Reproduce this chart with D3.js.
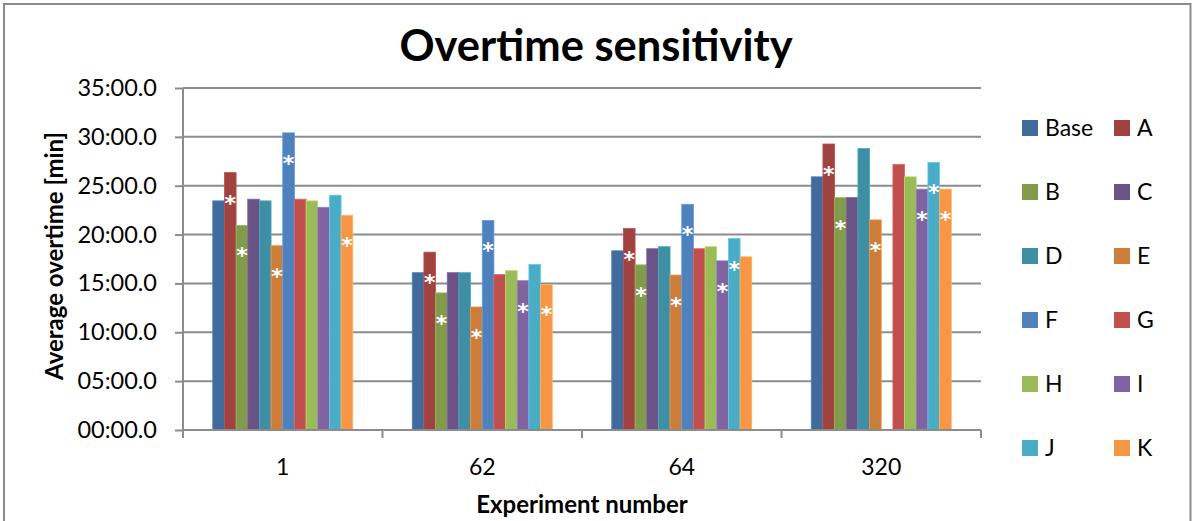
<!DOCTYPE html>
<html>
<head>
<meta charset="utf-8">
<script src="https://cdn.jsdelivr.net/npm/d3@7/dist/d3.min.js"></script>
<style>
  html, body { margin: 0; padding: 0; background: #fff; }
  svg { display: block; font-family: Lato, "Open Sans", sans-serif; }
</style>
</head>
<body>
<svg id="chart" width="1192" height="521"></svg>
<script>
// Experiment numbers along the x axis
const categories = ["1", "62", "64", "320"];

// Scenario names, in legend / bar order
const seriesNames = ["Base", "A", "B", "C", "D", "E", "F", "G", "H", "I", "J", "K"];

// Average overtime per scenario, in minutes, one value per experiment
const baseValues = [23.45, 16.10, 18.34, 25.91];
const aValues    = [26.34, 18.20, 20.62, 29.27];
const bValues    = [20.93, 14.03, 16.90, 23.78];
const cValues    = [23.62, 16.10, 18.55, 23.78];
const dValues    = [23.45, 16.10, 18.76, 28.81];
const eValues    = [18.86, 12.59, 15.86, 21.50];
const fValues    = [30.41, 21.45, 23.10, null];
const gValues    = [23.62, 15.90, 18.55, 27.17];
const hValues    = [23.45, 16.31, 18.76, 25.91];
const iValues    = [22.79, 15.28, 17.31, 24.65];
const jValues    = [24.03, 16.93, 19.59, 27.38];
const kValues    = [21.97, 14.90, 17.72, 24.65];

// Scenarios marked with an asterisk (significant difference) per experiment
const marked1   = ["A", "B", "E", "F", "K"];
const marked62  = ["A", "B", "E", "F", "I", "K"];
const marked64  = ["A", "B", "E", "F", "I", "J"];
const marked320 = ["A", "B", "E", "I", "J", "K"];

// Y axis ticks (minutes) and their mm:ss.t labels
const yTickValues = [0, 5, 10, 15, 20, 25, 30, 35];
const yTickLabels = ["00:00.0", "05:00.0", "10:00.0", "15:00.0", "20:00.0", "25:00.0", "30:00.0", "35:00.0"];

const seriesColors = ["#426b9d", "#9f4240", "#819b4a", "#6a5387", "#3e8fa4", "#cd7d3a",
                      "#4f81bd", "#c0504d", "#9bbb59", "#8064a2", "#4bacc6", "#f79646"];

const valuesBySeries = [baseValues, aValues, bValues, cValues, dValues, eValues,
                        fValues, gValues, hValues, iValues, jValues, kValues];
const markedByCategory = [marked1, marked62, marked64, marked320];

const svg = d3.select("#chart");

// outer chart frame
svg.append("rect")
  .attr("x", 4).attr("y", 4).attr("width", 1186.5).attr("height", 540)
  .attr("fill", "#fff").attr("stroke", "#8c8c8c").attr("stroke-width", 2);

const plot = { left: 183, right: 981, top: 88, bottom: 430 };

const x0 = d3.scaleBand().domain(categories).range([plot.left, plot.right]).padding(0);
const x1 = d3.scaleBand().domain(seriesNames).range([0, x0.bandwidth()])
  .paddingInner(0).paddingOuter(2.55);
const y = d3.scaleLinear().domain([0, 35]).range([plot.bottom, plot.top]);
const color = d3.scaleOrdinal().domain(seriesNames).range(seriesColors);

// horizontal gridlines
svg.append("g")
  .selectAll("line")
  .data(yTickValues.filter(v => v > 0))
  .join("line")
  .attr("x1", plot.left).attr("x2", plot.right)
  .attr("y1", d => y(d)).attr("y2", d => y(d))
  .attr("stroke", "#8c8c8c").attr("stroke-width", 2);

// bars
const rows = [];
categories.forEach((c, ci) => {
  seriesNames.forEach((s, si) => {
    const v = valuesBySeries[si][ci];
    if (v != null) rows.push({ cat: c, series: s, value: v, marked: markedByCategory[ci].includes(s) });
  });
});

const bars = svg.append("g");
bars.selectAll("rect")
  .data(rows)
  .join("rect")
  .attr("x", d => x0(d.cat) + x1(d.series))
  .attr("y", d => y(d.value))
  .attr("width", x1.bandwidth())
  .attr("height", d => y(0) - y(d.value))
  .attr("fill", d => color(d.series))
  .attr("stroke", d => d3.color(color(d.series)).brighter(0.5))
  .attr("stroke-width", 0.8);

// significance asterisks
bars.selectAll("text")
  .data(rows.filter(d => d.marked))
  .join("text")
  .attr("x", d => x0(d.cat) + x1(d.series) + x1.bandwidth() / 2)
  .attr("y", d => y(d.value) + 38)
  .attr("text-anchor", "middle")
  .attr("fill", "#fff")
  .attr("font-family", "'DejaVu Sans', sans-serif")
  .attr("font-size", 22)
  .attr("font-weight", "bold")
  .text("*");

// y axis
const yAxis = d3.axisLeft(y)
  .tickValues(yTickValues)
  .tickFormat((d, i) => yTickLabels[i])
  .tickSize(8)
  .tickPadding(18);
const gy = svg.append("g").attr("transform", `translate(${plot.left},0)`).call(yAxis);
gy.select(".domain").attr("stroke", "#8c8c8c").attr("stroke-width", 2).attr("d", `M0,${plot.top}V${plot.bottom}`);
gy.selectAll(".tick line").attr("stroke", "#8c8c8c").attr("stroke-width", 2);
gy.selectAll(".tick text").attr("font-size", 23.5).attr("fill", "#000")
  .attr("font-family", "Lato, sans-serif");

// x axis: category labels centred, tick marks on category boundaries
const xAxisG = svg.append("g").attr("transform", `translate(0,${plot.bottom})`);
xAxisG.append("line")
  .attr("x1", plot.left).attr("x2", plot.right)
  .attr("stroke", "#8c8c8c").attr("stroke-width", 2);
const boundaries = categories.map(c => x0(c)).concat([x0(categories[categories.length - 1]) + x0.bandwidth()]);
xAxisG.selectAll("line.b")
  .data(boundaries)
  .join("line")
  .attr("class", "b")
  .attr("x1", d => d).attr("x2", d => d)
  .attr("y1", 0).attr("y2", 8)
  .attr("stroke", "#8c8c8c").attr("stroke-width", 2);
xAxisG.selectAll("text")
  .data(categories)
  .join("text")
  .attr("x", d => x0(d) + x0.bandwidth() / 2)
  .attr("y", 45)
  .attr("text-anchor", "middle")
  .attr("font-size", 23)
  .attr("fill", "#000")
  .text(d => d);

// title
svg.append("text")
  .attr("x", 596).attr("y", 61)
  .attr("text-anchor", "middle")
  .attr("font-size", 43.5).attr("font-weight", "bold")
  .text("Overtime sensitivity");

// axis titles
svg.append("text")
  .attr("transform", "translate(63,256) rotate(-90)")
  .attr("text-anchor", "middle")
  .attr("font-size", 24).attr("font-weight", "bold")
  .text("Average overtime [min]");

svg.append("text")
  .attr("x", 582).attr("y", 513)
  .attr("text-anchor", "middle")
  .attr("font-size", 24).attr("font-weight", "bold")
  .text("Experiment number");

// legend: two columns, six rows
const legend = svg.append("g");
const legendItems = legend.selectAll("g")
  .data(seriesNames)
  .join("g")
  .attr("transform", (d, i) => `translate(${i % 2 === 0 ? 1022 : 1114},${128 + Math.floor(i / 2) * 64})`);
legendItems.append("rect")
  .attr("x", 0).attr("y", -8).attr("width", 16).attr("height", 16)
  .attr("fill", d => color(d));
legendItems.append("text")
  .attr("x", 23).attr("y", 0)
  .attr("dy", "0.35em")
  .attr("font-size", 23)
  .attr("fill", "#000")
  .text(d => d);
</script>
</body>
</html>
